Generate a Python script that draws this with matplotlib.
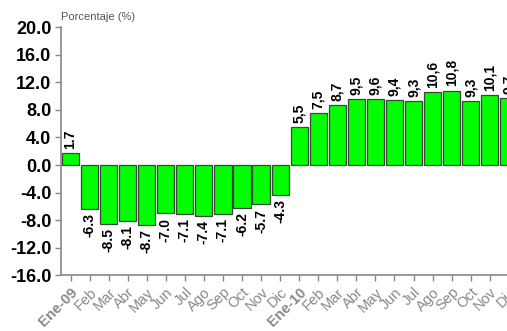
import matplotlib
matplotlib.use("Agg")
import matplotlib.pyplot as plt

months = ["Ene-09", "Feb", "Mar", "Abr", "May", "Jun", "Jul", "Ago", "Sep", "Oct", "Nov", "Dic",
          "Ene-10", "Feb", "Mar", "Abr", "May", "Jun", "Jul", "Ago", "Sep", "Oct", "Nov", "Dic"]
values_2009 = [1.7, -6.3, -8.5, -8.1, -8.7, -7.0, -7.1, -7.4, -7.1, -6.2, -5.7, -4.3]
values_2010 = [5.5, 7.5, 8.7, 9.5, 9.6, 9.4, 9.3, 10.6, 10.8, 9.3, 10.1, 9.7]
y_ticks = [-16.0, -12.0, -8.0, -4.0, 0.0, 4.0, 8.0, 12.0, 16.0, 20.0]

values = values_2009 + values_2010
labels = [f"{v:.1f}" for v in values_2009] + [f"{v:.1f}".replace(".", ",") for v in values_2010]

plt.rcParams["font.family"] = ["Liberation Sans", "DejaVu Sans"]

fig = plt.figure(figsize=(5.07, 3.31), dpi=100)
ax = fig.add_axes([0.1203, 0.1677, 0.902, 0.7507])

x = list(range(len(values)))
ax.bar(x, values, width=0.9, color="#00FF00", edgecolor="#3a463a", linewidth=0.9, zorder=2)

for xi, v, lab in zip(x, values, labels):
    if v >= 0:
        ax.annotate(lab, (xi, v), xytext=(0, 3), textcoords="offset points",
                    rotation=90, ha="center", va="bottom", fontsize=10, fontweight="bold")
    else:
        ax.annotate(lab, (xi, v), xytext=(0, -3), textcoords="offset points",
                    rotation=90, ha="center", va="top", fontsize=10, fontweight="bold")

ax.set_xlim(-0.5, len(values) - 0.5)
ax.set_ylim(-16, 20)
ax.set_yticks(y_ticks)
ax.set_yticklabels([f"{t:.1f}" for t in y_ticks], fontsize=13, fontweight="bold")

ax.set_xticks(x)
ax.set_xticklabels(months, rotation=45, ha="right", va="top", rotation_mode="anchor", fontsize=10.5)
for i, t in enumerate(ax.get_xticklabels()):
    if months[i].startswith("Ene"):
        t.set_fontweight("bold")
        t.set_color("#222222")
    else:
        t.set_color("#6a6a6a")

for side in ["top", "right"]:
    ax.spines[side].set_visible(False)
for side in ["left", "bottom"]:
    ax.spines[side].set_color("#888888")
    ax.spines[side].set_linewidth(1.2)
ax.tick_params(axis="both", colors="#888888", length=4, width=1)
ax.tick_params(axis="y", labelcolor="black", pad=3)
ax.tick_params(axis="x", pad=3)

fig.text(61 / 507, 1 - 17 / 331, "Porcentaje (%)", fontsize=8, color="#555555", va="center", ha="left")

fig.savefig("out.png", dpi=100)
